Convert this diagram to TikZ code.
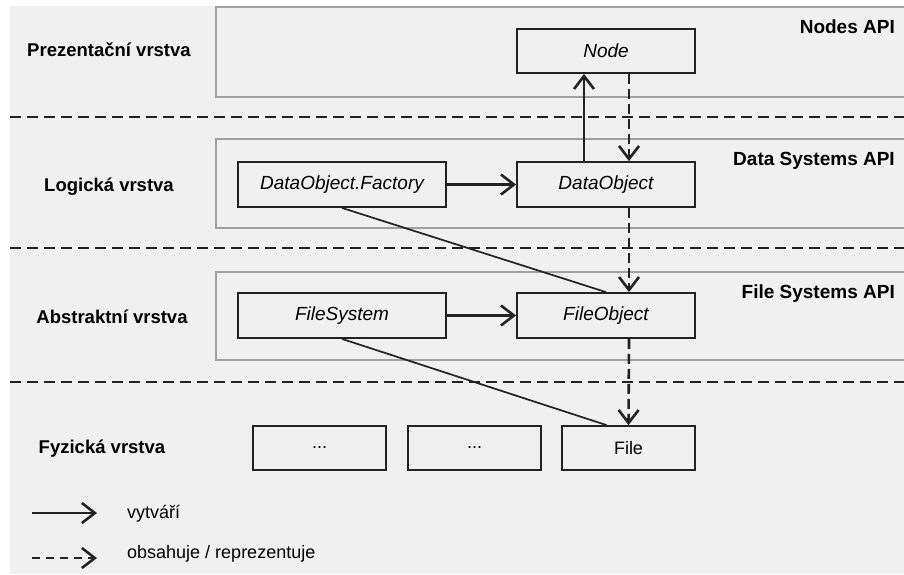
\documentclass[tikz,border=0pt]{standalone}
\usepackage{fontspec}
\setmainfont{Liberation Sans}
\usetikzlibrary{arrows.meta}
\definecolor{bg}{HTML}{F0F0F0}
\definecolor{layc}{HTML}{A0A0A0}
\definecolor{ink}{HTML}{222222}
\begin{document}
\begin{tikzpicture}[x=1pt,y=-1pt,
  layerbox/.style={draw=layc,line width=1.6pt,fill=bg},
  cls/.style={draw=ink,line width=1.8pt,fill=bg,inner sep=0pt,font=\fontsize{19}{22}\selectfont\itshape},
  phys/.style={draw=ink,line width=1.8pt,fill=bg,inner sep=0pt,minimum width=133pt,minimum height=44pt,font=\fontsize{18}{21}\selectfont},
  lname/.style={font=\fontsize{18.5}{22}\selectfont\bfseries,text=black,inner sep=0pt},
  apiname/.style={font=\fontsize{19}{22}\selectfont\bfseries,anchor=east,inner sep=0pt},
  layersep/.style={draw=ink,line width=2.4pt,dash pattern=on 11pt off 6pt},
  creates/.style={draw=ink,line width=2.6pt,-{Straight Barb[length=13pt,width=20pt]}},
  contains/.style={creates,dash pattern=on 10pt off 5pt},
  assoc/.style={draw=ink,line width=1.7pt},
  legtext/.style={font=\fontsize{18}{21}\selectfont,anchor=west,inner sep=0pt},
]
\useasboundingbox (0,0) rectangle (904,574);
\fill[bg] (10,6) rectangle (904,574);

% layer boxes
\draw[layerbox] (216,7) rectangle (915,97);
\draw[layerbox] (216,139) rectangle (915,228);
\draw[layerbox] (216,272) rectangle (915,360);

% separators
\draw[layersep] (10,117) -- (904,117);
\draw[layersep] (10,248) -- (904,248);
\draw[layersep] (10,382) -- (904,382);

% layer names
\node[lname] (l1) at (109,50) {Prezentační vrstva};
\node[lname] (l2) at (109,187) {Logická vrstva};
\node[lname] (l3) at (112,317) {Abstraktní vrstva};
\node[lname] (l4) at (102,449) {Fyzická vrstva};

% API names
\node[apiname] (a1) at (895,27) {Nodes API};
\node[apiname] (a2) at (895,161) {Data Systems API};
\node[apiname] (a3) at (895,294) {File Systems API};

% classes
\node[cls,minimum width=178pt,minimum height=44pt] (node) at (606,51) {Node};
\node[cls,minimum width=208pt,minimum height=45pt] (dof) at (342,184.5) {DataObject.Factory};
\node[cls,minimum width=178pt,minimum height=45pt] (do) at (606,184.5) {DataObject};
\node[cls,minimum width=208pt,minimum height=45pt] (fs) at (342,315.5) {FileSystem};
\node[cls,minimum width=178pt,minimum height=45pt] (fo) at (606,315.5) {FileObject};
\node[phys] (d1) at (319.5,448) {...};
\node[phys] (d2) at (474.5,448) {...};
\node[phys] (file) at (628.5,448) {File};

% connectors
\draw[assoc] (dof.south) -- (fo.north);
\draw[assoc] (fs.south) -- ([xshift=-22pt]file.north);
\draw[creates] ([xshift=-22pt]do.north) -- ([xshift=-22pt]node.south);
\draw[contains] ([xshift=23pt]node.south) -- ([xshift=23pt]do.north);
\draw[contains] ([xshift=23pt]do.south) -- ([xshift=23pt]fo.north);
\draw[contains] ([xshift=23pt]fo.south) -- (file.north);
\draw[creates] (dof) -- (do);
\draw[creates] (fs) -- (fo);

% legend
\coordinate (s1) at (32,513);
\coordinate (e1) at (97,513);
\coordinate (s2) at (32,558);
\coordinate (e2) at (97,558);
\draw[creates] (s1) -- (e1);
\draw[creates,dash pattern=on 8pt off 6pt] (s2) -- (e2);
\node[legtext] (t1) at (127,514) {vytváří};
\node[legtext] (t2) at (127,554) {obsahuje / reprezentuje};
\end{tikzpicture}
\end{document}
